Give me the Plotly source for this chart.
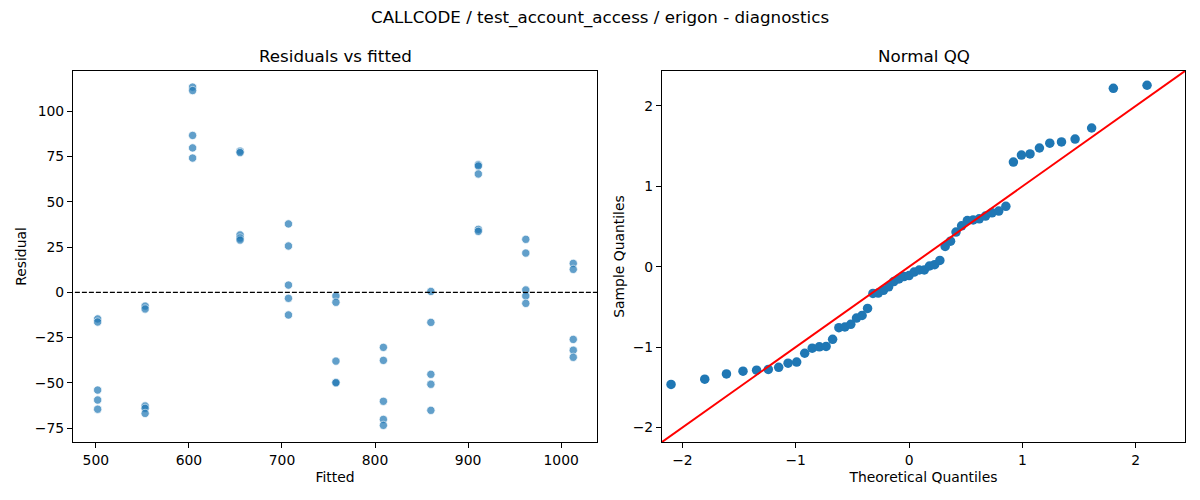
from statistics import NormalDist

import numpy as np
import plotly.graph_objects as go

# fitted value of each group, and the five residuals seen at each one
fitted_levels = [502, 553, 604, 655, 707, 758, 809, 860, 911, 962, 1013]
residual_groups = [
    [-14.7, -16.4, -54.0, -59.5, -64.6],
    [-7.6, -9.2, -62.8, -64.1, -66.9],
    [113.4, 111.5, 86.7, 79.8, 74.2],
    [78.0, 77.2, 31.7, 30.0, 28.9],
    [37.8, 25.6, 4.0, -3.3, -12.5],
    [-2.0, -5.5, -38.0, -49.7, -50.0],
    [-30.4, -37.6, -60.2, -70.2, -73.5],
    [0.5, -16.6, -45.3, -50.8, -65.2],
    [70.5, 69.8, 65.4, 34.8, 33.7],
    [29.3, 21.7, 1.3, -2.0, -6.1],
    [16.0, 12.7, -26.0, -32.0, -35.9],
]

fitted = np.repeat(fitted_levels, [len(g) for g in residual_groups])
resid = np.concatenate([np.array(g, dtype=float) for g in residual_groups])

# normal QQ: plotting positions i/(n+1), residuals standardised
n = len(resid)
theo = np.array([NormalDist().inv_cdf(i / (n + 1)) for i in range(1, n + 1)])
sample = np.sort((resid - resid.mean()) / resid.std())
qq_lim = [-2.18, 2.435]

FONT = "DejaVu Sans"
BLUE = "#1f77b4"

# page body has an 8px margin, so the figure is drawn 8px smaller
W, H = 1192, 492


def px_x(p):
    return (p - 8) / W


def px_y(p):
    return 1 - (p - 8) / H


fig = go.Figure()

fig.add_trace(go.Scatter(
    x=fitted, y=resid, mode="markers", xaxis="x", yaxis="y",
    marker=dict(color=BLUE, opacity=0.7, size=8.3,
                line=dict(color="white", width=0.75)),
    hoverinfo="x+y",
))
fig.add_trace(go.Scatter(
    x=[470, 1045], y=[0, 0], mode="lines", xaxis="x", yaxis="y",
    line=dict(color="black", width=1.3, dash="5px,2px"), hoverinfo="skip",
))

fig.add_trace(go.Scatter(
    x=theo, y=sample, mode="markers", xaxis="x2", yaxis="y2",
    marker=dict(color=BLUE, size=9.5, line=dict(color=BLUE, width=0)),
    hoverinfo="x+y",
))
fig.add_trace(go.Scatter(
    x=qq_lim, y=qq_lim, mode="lines", xaxis="x2", yaxis="y2",
    line=dict(color="red", width=2), hoverinfo="skip",
))

axis_style = dict(
    showline=True, mirror=True, linecolor="black", linewidth=1.1,
    ticks="outside", ticklen=5, tickwidth=1.1, tickcolor="black",
    showgrid=False, zeroline=False,
    tickfont=dict(family=FONT, size=13.9, color="black"),
)
title_font = dict(family=FONT, size=13.9, color="black")
head_font = dict(family=FONT, size=16.7, color="black")

fig.update_layout(
    width=W, height=H,
    margin=dict(l=0, r=0, t=0, b=0),
    paper_bgcolor="white", plot_bgcolor="white",
    showlegend=False,
    font=dict(family=FONT, color="black"),
    xaxis=dict(axis_style, domain=[px_x(73), px_x(597)], anchor="y",
               range=[475.5, 1038.5], tickvals=[500, 600, 700, 800, 900, 1000],
               title=dict(text="Fitted", font=title_font, standoff=5)),
    yaxis=dict(axis_style, domain=[px_y(442), px_y(71)], anchor="x",
               range=[-82.7, 122.3], tickvals=[-75, -50, -25, 0, 25, 50, 75, 100],
               title=dict(text="Residual", font=title_font, standoff=4)),
    xaxis2=dict(axis_style, domain=[px_x(662), px_x(1185)], anchor="y2",
                range=qq_lim, tickvals=[-2, -1, 0, 1, 2],
                title=dict(text="Theoretical Quantiles", font=title_font, standoff=5)),
    yaxis2=dict(axis_style, domain=[px_y(442), px_y(71)], anchor="x2",
                range=qq_lim, tickvals=[-2, -1, 0, 1, 2],
                title=dict(text="Sample Quantiles", font=title_font, standoff=4)),
    annotations=[
        dict(text="CALLCODE / test_account_access / erigon - diagnostics",
             x=px_x(600), y=px_y(18), xref="paper", yref="paper",
             xanchor="center", yanchor="middle", showarrow=False, font=head_font),
        dict(text="Residuals vs fitted", x=px_x(335), y=px_y(56),
             xref="paper", yref="paper", xanchor="center", yanchor="middle",
             showarrow=False, font=head_font),
        dict(text="Normal QQ", x=px_x(923.5), y=px_y(56),
             xref="paper", yref="paper", xanchor="center", yanchor="middle",
             showarrow=False, font=head_font),
    ],
)

fig.write_html("out.html")
